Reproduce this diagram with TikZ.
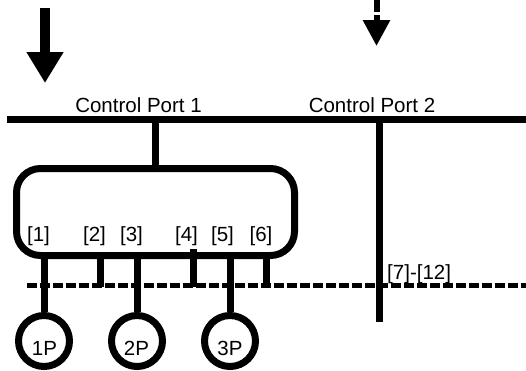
\documentclass[tikz,border=0pt]{standalone}
\usepackage{fontspec}
\setmainfont{Liberation Sans}
\usetikzlibrary{arrows.meta}
\begin{document}
\begin{tikzpicture}[x=1pt,y=-1pt,
  thick line/.style={line width=7pt},
  lbl/.style={inner sep=0pt, anchor=base, font=\fontsize{20.5}{24}\selectfont},
  portcircle/.style={draw, circle, line width=7pt, minimum size=51pt, inner sep=0pt},
  dashbus/.style={line width=4.5pt, dash pattern=on 9.5pt off 3.5pt}]
\useasboundingbox (0,0) rectangle (526,370);

% arrows
\coordinate (a1top) at (45,8);
\coordinate (a1tip) at (45,83);
\draw[line width=10pt, -{Triangle[width=35pt,length=31pt]}] (a1top) -- (a1tip);
\coordinate (a2top) at (376.5,0);
\coordinate (a2tip) at (376.5,46);
\draw[line width=6pt, dash pattern=on 12pt off 3pt, -{Triangle[width=26pt,length=26pt]}] (a2top) -- (a2tip);

% main bus
\coordinate (busL) at (7,119.5);
\coordinate (busR) at (526,119.5);
\draw[thick line] (busL) -- (busR);
\node[lbl] (cp1) at (138.5,112) {Control Port 1};
\node[lbl] (cp2) at (372,112) {Control Port 2};

% box
\node[draw, thick line, rounded corners=24pt, minimum width=278pt, minimum height=87pt, inner sep=0pt] (box) at (155.5,212) {};
\draw[thick line] (box.north) -- (box.north |- busL);

% port labels
\node[lbl] (l1) at (38.5,241) {[1]};
\node[lbl] (l2) at (94.5,241) {[2]};
\node[lbl] (l3) at (131.5,241) {[3]};
\node[lbl] (l4) at (186.5,241) {[4]};
\node[lbl] (l5) at (222.5,241) {[5]};
\node[lbl] (l6) at (261,241) {[6]};

% dashed bus
\coordinate (dashL) at (27,285.5);
\coordinate (dashR) at (526,285.5);
\draw[dashbus] (dashL) -- (dashR);

% circles
\node[portcircle] (p1) at (44,341) {};
\node[portcircle] (p2) at (137,341) {};
\node[portcircle] (p3) at (230,341) {};
\node[lbl] (t1) at (44.5,355) {1P};
\node[lbl] (t2) at (136.5,355) {2P};
\node[lbl] (t3) at (230,355) {3P};

% stubs to circles
\draw[thick line] (p1.north) -- (p1.north |- box.south);
\draw[thick line] (p2.north) -- (p2.north |- box.south);
\draw[thick line] (p3.north) -- (p3.north |- box.south);

% stubs to dashed bus
\coordinate (s2) at (100,287);
\coordinate (s4) at (193,287);
\coordinate (s4t) at (193,249);
\coordinate (s6) at (266.5,287);
\draw[thick line] (s2 |- box.south) -- (s2);
\draw[thick line] (s4t) -- (s4);
\draw[thick line] (s6 |- box.south) -- (s6);

% control port 2 line
\coordinate (cp2bot) at (379,322);
\draw[thick line] (cp2bot |- busL) -- (cp2bot);
\node[lbl, anchor=base west] (l712) at (387,279) {[7]-[12]};
\end{tikzpicture}
\end{document}
